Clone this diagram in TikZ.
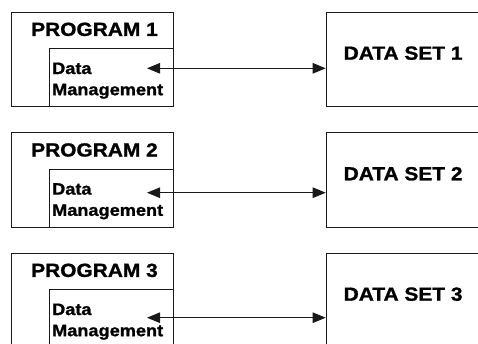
\documentclass[tikz,border=0pt]{standalone}
\usepackage{fontspec}
\newfontfamily\wfont[FakeStretch=1.1,FakeBold=1.2]{Liberation Sans Bold}
\usetikzlibrary{arrows.meta}
\begin{document}
\begin{tikzpicture}[x=1pt,y=-1pt,
  boxline/.style={draw=black!90, line width=1pt, inner sep=0pt, anchor=north west},
  prog/.style={boxline, minimum width=162pt, minimum height=94.3pt},
  dm/.style={boxline, minimum width=124pt, minimum height=57.7pt},
  ds/.style={boxline, minimum width=170pt, minimum height=94.3pt},
  big/.style={inner sep=0pt, anchor=base west, font=\wfont\fontsize{19}{22}\selectfont},
  small/.style={inner sep=0pt, anchor=base west, align=left, font=\wfont\fontsize{16.5}{21.2}\selectfont},
  link/.style={draw=black!90, line width=1pt, {Triangle[length=13pt,width=10.5pt]}-{Triangle[length=13pt,width=10.5pt]}}]
\useasboundingbox (0,0) rectangle (478,343);
\clip (0,0) rectangle (478,343);
\foreach \i/\t/\a in {1/11.7/68.3, 2/132.3/192.7, 3/252.7/317.7}{
  \node[prog] (p\i) at (10.7,\t) {};
  \node[dm] (m\i) at (48.7,\t+36.6) {};
  \node[ds] (d\i) at (325.7,\t) {};
  \node[big] (pt\i) at (31,\t+24.2) {PROGRAM \i};
  \node[small] (mt\i) at (52,\t+83.5) {Data\\Management};
  \node[big] (dt\i) at (343.5,\t+48) {DATA SET \i};
  \coordinate (a\i) at (147,\a);
  \draw[link] (a\i) -- (a\i -| d\i.west);
}
\end{tikzpicture}
\end{document}
